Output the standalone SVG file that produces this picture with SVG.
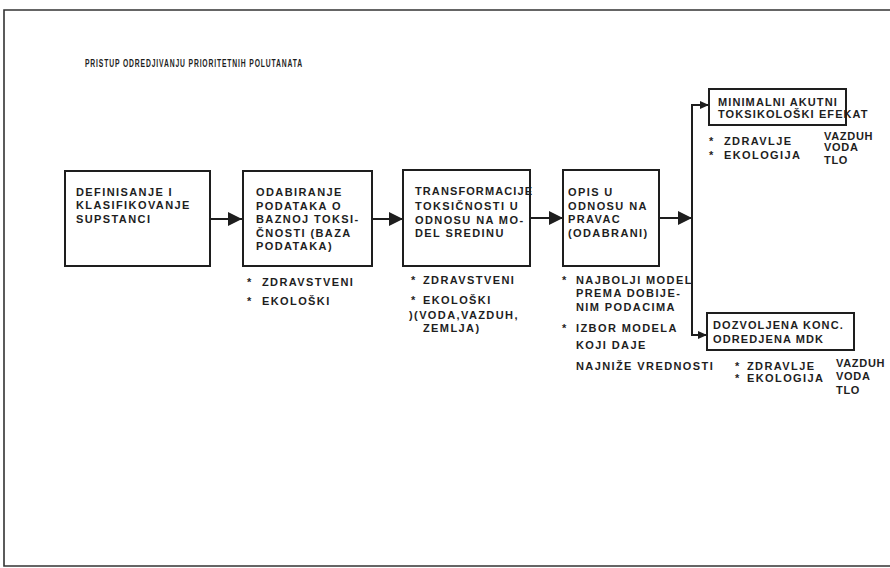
<svg xmlns="http://www.w3.org/2000/svg" width="890" height="568" viewBox="0 0 890 568">
<defs>
<style>
.t{font-family:"Liberation Sans",Arial,sans-serif;font-size:11px;font-weight:bold;letter-spacing:1.4px;fill:#1e1e1e}
.n{letter-spacing:1.1px}
.v{letter-spacing:0.7px}
.b{fill:#fff;stroke:#1e1e1e;stroke-width:2}
.c{fill:none;stroke:#1e1e1e;stroke-width:2}
</style>
<marker id="ah" markerUnits="userSpaceOnUse" markerWidth="16" markerHeight="16" refX="14" refY="7.5" orient="auto"><path d="M0,0.5 L14,7.5 L0,14.5 z" fill="#1e1e1e"/></marker>
<marker id="as" markerUnits="userSpaceOnUse" markerWidth="10" markerHeight="10" refX="9" refY="5" orient="auto"><path d="M0,1 L9,5 L0,9 z" fill="#1e1e1e"/></marker>
</defs>
<rect width="890" height="568" fill="#fff"/>
<g id="frame" fill="none" stroke="#333" stroke-width="1.6">
<path d="M890,10 H4 V566 H890"/>
</g>
<text class="t" x="85" y="66.5" font-size="12.5" letter-spacing="0" textLength="218" lengthAdjust="spacingAndGlyphs">PRISTUP ODREDJIVANJU PRIORITETNIH POLUTANATA</text>
<g id="connectors">
<line class="c" x1="210" y1="219" x2="242" y2="219" marker-end="url(#ah)"/>
<line class="c" x1="372" y1="219" x2="403" y2="219" marker-end="url(#ah)"/>
<line class="c" x1="530" y1="218" x2="563" y2="218" marker-end="url(#ah)"/>
<line class="c" x1="659" y1="218" x2="692" y2="218" marker-end="url(#ah)"/>
<path class="c" d="M692,218 V105 H709" marker-end="url(#as)"/>
<path class="c" d="M692,218 V335 H707" marker-end="url(#as)"/>
</g>
<g id="n1">
<rect class="b" x="65" y="171" width="145" height="95"/>
<text class="t" x="76" y="195.5">DEFINISANJE I</text>
<text class="t" x="76" y="209">KLASIFIKOVANJE</text>
<text class="t" x="76" y="222.5">SUPSTANCI</text>
</g>
<g id="n2">
<rect class="b" x="243" y="171" width="129" height="95"/>
<text class="t" x="256" y="196">ODABIRANJE</text>
<text class="t" x="256" y="209.5">PODATAKA O</text>
<text class="t" x="256" y="223">BAZNOJ TOKSI-</text>
<text class="t" x="256" y="236.5">ČNOSTI (BAZA</text>
<text class="t" x="256" y="250">PODATAKA)</text>
<text class="t" x="247" y="285.5">*<tspan x="262">ZDRAVSTVENI</tspan></text>
<text class="t" x="247" y="305">*<tspan x="262">EKOLOŠKI</tspan></text>
</g>
<g id="n3">
<rect class="b" x="403" y="170" width="127" height="96"/>
<text class="t n" x="415" y="195">TRANSFORMACIJE</text>
<text class="t" x="415" y="209.5">TOKSIČNOSTI U</text>
<text class="t" x="415" y="223.5">ODNOSU NA MO-</text>
<text class="t" x="415" y="237">DEL SREDINU</text>
<text class="t" x="411" y="284">*<tspan x="423">ZDRAVSTVENI</tspan></text>
<text class="t" x="411" y="304">*<tspan x="423">EKOLOŠKI</tspan></text>
<text class="t" x="409" y="318.5">)(VODA,VAZDUH,</text>
<text class="t" x="423" y="332">ZEMLJA)</text>
</g>
<g id="n4">
<rect class="b" x="563" y="170" width="96" height="96"/>
<text class="t" x="568" y="195.5">OPIS U</text>
<text class="t" x="568" y="209.5">ODNOSU NA</text>
<text class="t" x="568" y="223">PRAVAC</text>
<text class="t" x="568" y="237">(ODABRANI)</text>
<text class="t" x="562" y="283.5">*<tspan x="576">NAJBOLJI MODEL</tspan></text>
<text class="t" x="576" y="297">PREMA DOBIJE-</text>
<text class="t" x="576" y="311">NIM PODACIMA</text>
<text class="t" x="562" y="332">*<tspan x="576">IZBOR MODELA</tspan></text>
<text class="t" x="576" y="348.5">KOJI DAJE</text>
<text class="t" x="576" y="369.5">NAJNIŽE VREDNOSTI</text>
</g>
<g id="n5">
<rect class="b" x="709" y="89" width="137" height="36"/>
<text class="t n" x="718" y="105.5">MINIMALNI AKUTNI</text>
<text class="t n" x="718" y="117.5">TOKSIKOLOŠKI EFEKAT</text>
<text class="t" x="709" y="145">*<tspan x="724">ZDRAVLJE</tspan></text>
<text class="t" x="709" y="158.5">*<tspan x="724">EKOLOGIJA</tspan></text>
<text class="t v" x="824" y="139.5">VAZDUH</text>
<text class="t v" x="824" y="151">VODA</text>
<text class="t v" x="824" y="163.5">TLO</text>
</g>
<g id="n6">
<rect class="b" x="707" y="313" width="147" height="37"/>
<text class="t n" x="713" y="328.5">DOZVOLJENA KONC.</text>
<text class="t n" x="713" y="343">ODREDJENA MDK</text>
<text class="t" x="735" y="370">*<tspan x="747">ZDRAVLJE</tspan></text>
<text class="t" x="735" y="382">*<tspan x="747">EKOLOGIJA</tspan></text>
<text class="t v" x="836" y="367">VAZDUH</text>
<text class="t v" x="836" y="380">VODA</text>
<text class="t v" x="836" y="393.5">TLO</text>
</g>
</svg>
